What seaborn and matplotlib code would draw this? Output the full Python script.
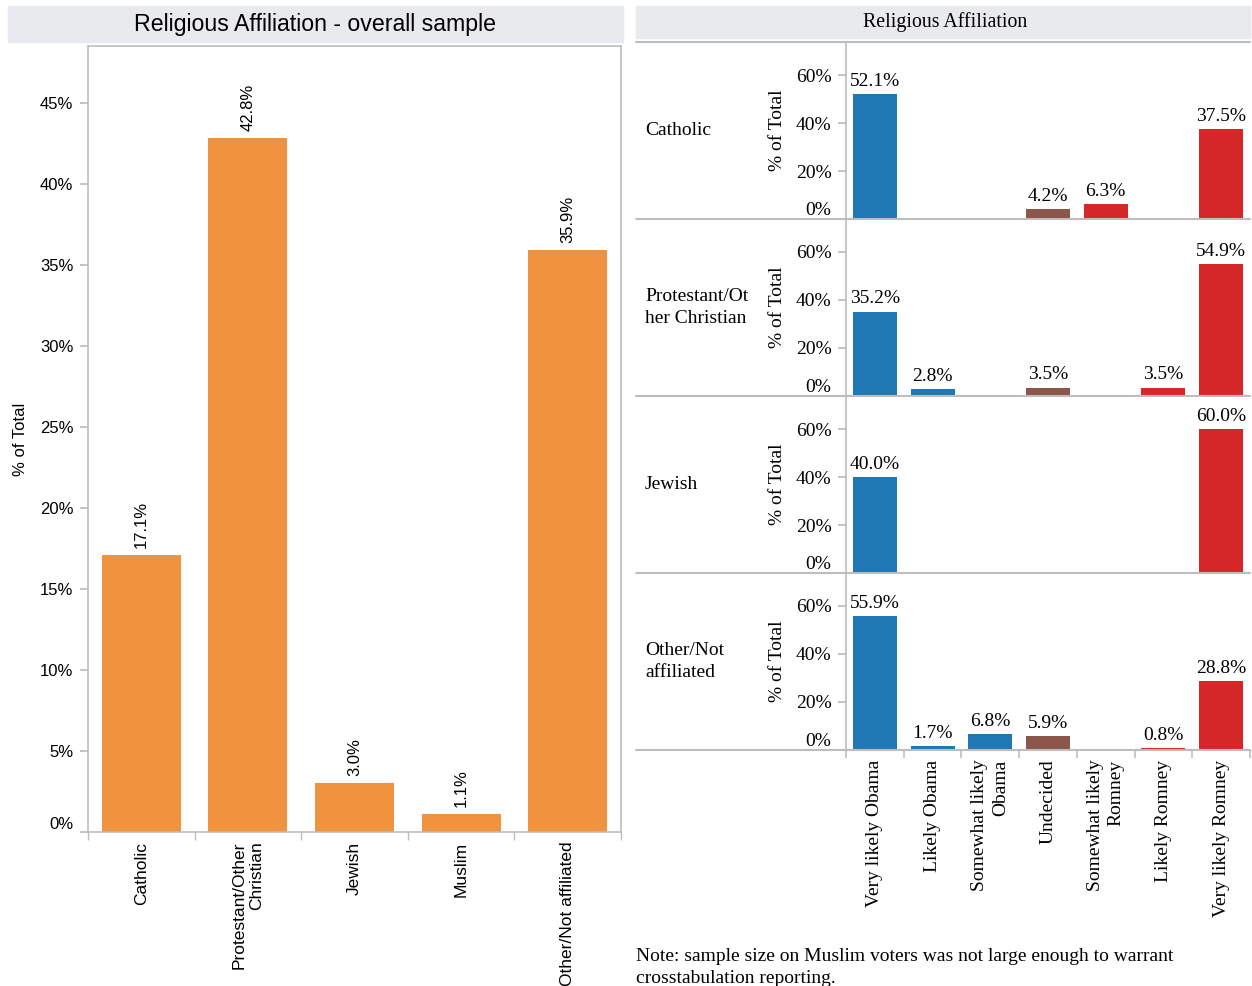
import numpy as np
import pandas as pd
import matplotlib
matplotlib.use("Agg")
import matplotlib.pyplot as plt
import seaborn as sns
from matplotlib.patches import Rectangle
from matplotlib.lines import Line2D
from matplotlib.ticker import PercentFormatter

# overall sample
religions = ["Catholic", "Protestant/Other\nChristian", "Jewish", "Muslim", "Other/Not affiliated"]
overall_pct = [17.1, 42.8, 3.0, 1.1, 35.9]

# crosstab by voting likelihood
likelihood = ["Very likely Obama", "Likely Obama", "Somewhat likely\nObama", "Undecided",
              "Somewhat likely\nRomney", "Likely Romney", "Very likely Romney"]
row_labels = ["Catholic", "Protestant/Ot\nher Christian", "Jewish", "Other/Not\naffiliated"]
catholic_pct = [52.1, 0, 0, 4.2, 6.3, 0, 37.5]
protestant_pct = [35.2, 2.8, 0, 3.5, 0, 3.5, 54.9]
jewish_pct = [40.0, 0, 0, 0, 0, 0, 60.0]
other_pct = [55.9, 1.7, 6.8, 5.9, 0, 0.8, 28.8]

ORANGE = "#f0923e"
lean_colors = ["#1f77b4", "#1f77b4", "#1f77b4", "#8c564b", "#d62728", "#d62728", "#d62728"]
GRAY = "#bdbdbd"
BAND = "#e9eaee"
SERIF = ["Liberation Serif", "DejaVu Serif"]

sns.set_theme(style="white")
plt.rcParams["font.family"] = ["Liberation Sans", "DejaVu Sans"]
plt.rcParams.update({"text.color": "black", "axes.labelcolor": "black",
                     "xtick.labelcolor": "black", "ytick.labelcolor": "black"})

W, H = 1252, 986
fig = plt.figure(figsize=(W / 100, H / 100), dpi=100)


def box(x0, y0, x1, y1):
    return [x0 / W, 1 - y1 / H, (x1 - x0) / W, (y1 - y0) / H]


def hline(x0, x1, y, color=GRAY, lw=1.5):
    fig.add_artist(Line2D([x0 / W, x1 / W], [1 - y / H, 1 - y / H],
                          transform=fig.transFigure, color=color, lw=lw))


# ---- left: overall sample ----
fig.add_artist(Rectangle((8 / W, 1 - 42 / H), 615 / W, 36 / H, transform=fig.transFigure,
                         color=BAND, zorder=0))
fig.text(315 / W, 1 - 24 / H, "Religious Affiliation - overall sample", ha="center", va="center",
         fontsize=16.7)

ax = fig.add_axes(box(88, 46, 621, 832))
df_all = pd.DataFrame({"religion": religions, "pct": overall_pct})
sns.barplot(data=df_all, x="religion", y="pct", order=religions, color=ORANGE, saturation=1,
            width=0.74, linewidth=0, ax=ax)
ax.set_xlim(-0.5, len(religions) - 0.5)
ax.set_ylim(0, 48.5)
ax.set_yticks(np.arange(0, 50, 5))
ax.yaxis.set_major_formatter(PercentFormatter(decimals=0))
ax.set_xticks(np.arange(-0.5, len(religions), 1), minor=True)
ax.tick_params(axis="y", left=True, length=5.5, color=GRAY, labelsize=12, pad=5)
ax.tick_params(axis="x", which="major", bottom=True, length=0, labelsize=12.5, pad=7)
ax.tick_params(axis="x", which="minor", bottom=True, length=5.5, color=GRAY)
for lab in ax.get_xticklabels():
    lab.set_rotation(90)
    lab.set_va("top")
    lab.set_ha("center")
    lab.set_multialignment("right")
ax.get_yticklabels()[0].set_va("bottom")
for s in ax.spines.values():
    s.set_color(GRAY)
    s.set_linewidth(1.2)
ax.set_xlabel("")
ax.set_ylabel("% of Total", fontsize=12)
ax.yaxis.set_label_coords((28 - 88) / 533, 0.5)
for i, v in enumerate(overall_pct):
    ax.annotate(f"{v:.1f}%", (i, v), xytext=(0, 5), textcoords="offset points", rotation=90,
                ha="center", va="bottom", fontsize=12)

# ---- right: crosstab ----
fig.add_artist(Rectangle((636 / W, 1 - 38 / H), 614 / W, 32 / H, transform=fig.transFigure,
                         color=BAND, zorder=0))
fig.text(945 / W, 1 - 22 / H, "Religious Affiliation", ha="center", va="center",
         fontsize=14.3, family=SERIF)

rows = [catholic_pct, protestant_pct, jewish_pct, other_pct]
palette = dict(zip(likelihood, lean_colors))
row_h = 177
top0 = 42
hline(636, 1250, top0)
for r, (name, vals) in enumerate(zip(row_labels, rows)):
    top = top0 + r * row_h
    bot = top + row_h
    axr = fig.add_axes(box(846, top, 1250, bot))
    d = pd.DataFrame({"lean": likelihood, "pct": vals})
    d = d[d["pct"] > 0]
    sns.barplot(data=d, x="lean", y="pct", hue="lean", order=likelihood, hue_order=likelihood,
                palette=palette, saturation=1, width=0.76, linewidth=0, legend=False, ax=axr)
    axr.set_xlim(-0.5, len(likelihood) - 0.5)
    axr.set_ylim(0, 73.75)
    axr.set_yticks([0, 20, 40, 60])
    axr.yaxis.set_major_formatter(PercentFormatter(decimals=0))
    axr.tick_params(axis="y", left=True, length=5.5, color=GRAY, labelsize=14, pad=5)
    for lab in axr.get_yticklabels():
        lab.set_family(SERIF)
    axr.get_yticklabels()[0].set_va("bottom")
    for side in ["top", "right", "bottom"]:
        axr.spines[side].set_visible(False)
    axr.spines["left"].set_color(GRAY)
    axr.spines["left"].set_linewidth(1.2)
    axr.set_xlabel("")
    axr.set_ylabel("% of Total", fontsize=14, family=SERIF)
    axr.yaxis.set_label_coords((786 - 846) / 404, 0.5)
    for i, v in enumerate(vals):
        if v > 0:
            axr.annotate(f"{v:.1f}%", (i, v), xytext=(0, 3), textcoords="offset points",
                         ha="center", va="bottom", fontsize=14, family=SERIF)
    if r < len(rows) - 1:
        axr.set_xticks([])
    else:
        axr.set_xticks(np.arange(-0.5, len(likelihood), 1), minor=True)
        axr.tick_params(axis="x", which="major", bottom=True, length=0, labelsize=14, pad=7)
        axr.tick_params(axis="x", which="minor", bottom=True, length=5.5, color=GRAY, width=1.2)
        for lab in axr.get_xticklabels():
            lab.set_rotation(90)
            lab.set_va("top")
            lab.set_ha("center")
            lab.set_multialignment("right")
            lab.set_family(SERIF)
            lab.set_linespacing(1.3)
    hline(636, 1250, bot)
    fig.text(645 / W, 1 - (top + row_h / 2) / H, name, ha="left", va="center", fontsize=14,
             family=SERIF, linespacing=1.4)

fig.text(636 / W, 1 - 948 / H,
         "Note: sample size on Muslim voters was not large enough to warrant\ncrosstabulation reporting.",
         ha="left", va="top", fontsize=14, family=SERIF, linespacing=1.4)

fig.savefig("out.png", dpi=100)
